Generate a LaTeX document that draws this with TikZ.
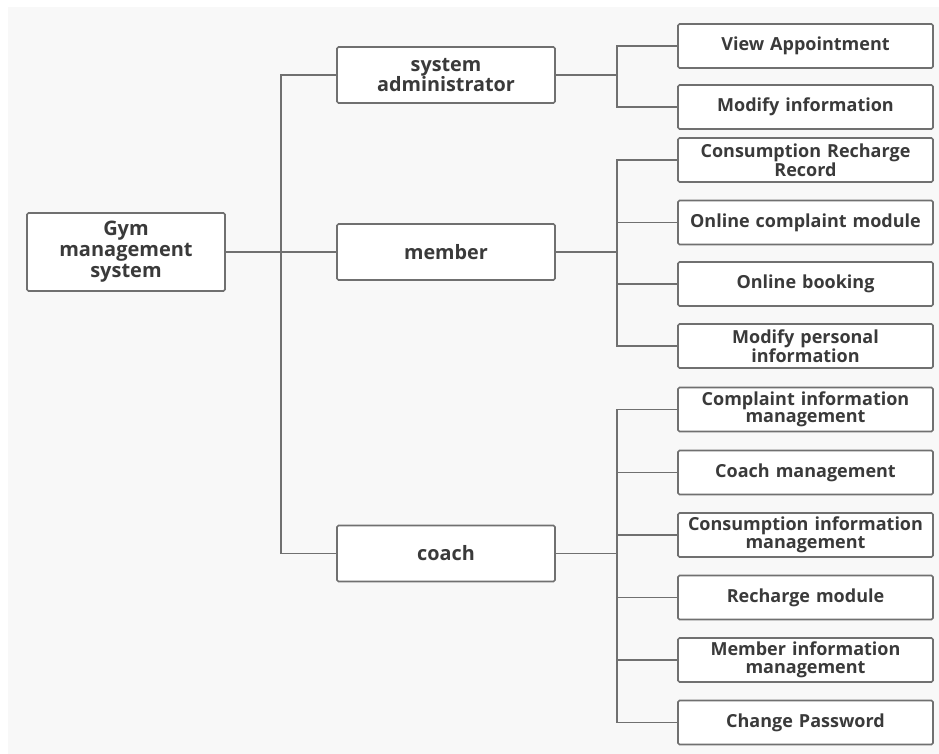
\documentclass[tikz,border=0pt]{standalone}
\usepackage{fontspec}
\setmainfont{Open Sans}
\definecolor{bgc}{HTML}{F8F8F8}
\definecolor{linec}{HTML}{707070}
\definecolor{txtc}{HTML}{3A3A3A}
\begin{document}
\begin{tikzpicture}[x=1pt,y=-1pt,
  box/.style={draw=linec, line width=1.6pt, fill=white, rounded corners=1.5pt, inner sep=0pt, align=center, text=txtc, font=\bfseries},
  rootbox/.style={box, minimum width=198pt, minimum height=78pt, text width=194pt, font=\fontsize{20}{21}\selectfont\bfseries},
  midbox/.style={box, minimum width=218pt, minimum height=56pt, text width=214pt, font=\fontsize{19.8}{20}\selectfont\bfseries},
  leafbox/.style={box, minimum width=255pt, minimum height=44pt, text width=253pt, font=\fontsize{18}{17.5}\selectfont\bfseries},
  conn/.style={draw=linec, line width=1.6pt}]
\useasboundingbox (0,0) rectangle (939,754);
\fill[white] (0,0) rectangle (939,754);
\fill[bgc] (8,7) rectangle (939,754);

\node[rootbox] (root) at (126,252) {Gym\\management\\system};
\node[midbox] (admin) at (446,75) {system\\administrator};
\node[midbox] (member) at (446,252) {member};
\node[midbox] (coach) at (446,553.5) {coach};

\node[leafbox] (a1) at (805.5,46) {View Appointment};
\node[leafbox] (a2) at (805.5,107) {Modify information};

\node[leafbox] (m1) at (805.5,160) {Consumption Recharge\\Record};
\node[leafbox] (m2) at (805.5,222.5) {Online complaint module};
\node[leafbox] (m3) at (805.5,284) {Online booking};
\node[leafbox] (m4) at (805.5,346) {Modify personal\\information};

\node[leafbox] (c1) at (805.5,409.5) {Complaint information\\management};
\node[leafbox] (c2) at (805.5,472.5) {Coach management};
\node[leafbox] (c3) at (805.5,535) {Consumption information\\management};
\node[leafbox] (c4) at (805.5,597.5) {Recharge module};
\node[leafbox] (c5) at (805.5,660) {Member information\\management};
\node[leafbox] (c6) at (805.5,722.5) {Change Password};

\coordinate (t) at (281,0);
\coordinate (b) at (617,0);

% root trunk
\draw[conn] (root.east) -- (member.west);
\draw[conn] (admin.west) -- (admin.west -| t) -- (coach.west -| t) -- (coach.west);

% admin branch
\draw[conn] (admin.east) -- (admin.east -| b);
\draw[conn] (a1.west) -- (a1.west -| b) -- (a2.west -| b) -- (a2.west);

% member branch
\draw[conn] (member.east) -- (member.east -| b);
\draw[conn] (m1.west) -- (m1.west -| b) -- (m4.west -| b) -- (m4.west);
\draw[conn] (m2.west) -- (m2.west -| b);
\draw[conn] (m3.west) -- (m3.west -| b);

% coach branch
\draw[conn] (coach.east) -- (coach.east -| b);
\draw[conn] (c1.west) -- (c1.west -| b) -- (c6.west -| b) -- (c6.west);
\draw[conn] (c2.west) -- (c2.west -| b);
\draw[conn] (c3.west) -- (c3.west -| b);
\draw[conn] (c4.west) -- (c4.west -| b);
\draw[conn] (c5.west) -- (c5.west -| b);
\end{tikzpicture}
\end{document}
